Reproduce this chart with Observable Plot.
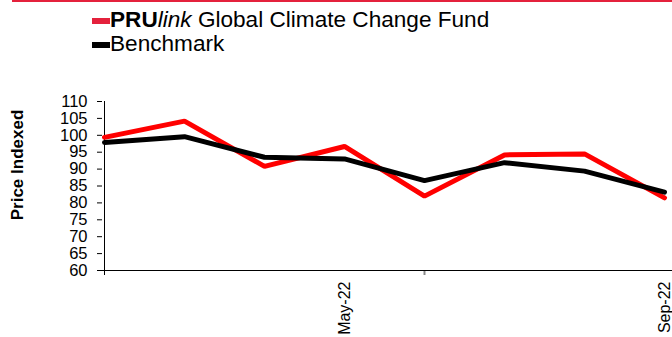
<!DOCTYPE html>
<html>
<head>
<meta charset="utf-8">
<script src="https://cdn.jsdelivr.net/npm/d3@7"></script>
<script src="https://cdn.jsdelivr.net/npm/@observablehq/plot@0.6"></script>
<style>
  html, body { margin: 0; padding: 0; background: #fff; }
  #wrap { position: relative; width: 672px; height: 337px; font-family: "Liberation Sans", Arial, sans-serif; }
  #topline { position: absolute; left: 12px; right: 0; top: 0; height: 2px; background: #e4213c; }
  .leg { position: absolute; left: 92px; font-size: 22.6px; line-height: 24px; color: #000; white-space: nowrap; }
  .sw { display: inline-block; width: 18px; height: 6px; vertical-align: 3px; }
  #chart { position: absolute; left: 0; top: 0; }
</style>
</head>
<body>
<div id="wrap">
  <div id="chart"></div>
  <div id="topline"></div>
  <div class="leg" style="top:8px"><span class="sw" style="background:#e4213c"></span><b>PRU</b><i>link</i> Global Climate Change Fund</div>
  <div class="leg" style="top:32px"><span class="sw" style="background:#000"></span>Benchmark</div>
</div>
<script>
const months = ["Feb-22","Mar-22","Apr-22","May-22","Jun-22","Jul-22","Aug-22","Sep-22"];
const fund = [99.4,104.2,90.8,96.7,82.0,94.2,94.5,81.5];
const bench = [97.9,99.6,93.5,93.0,86.6,91.9,89.4,83.2];
const yTicks = [60,65,70,75,80,85,90,95,100,105,110];
const xLabelTicks = ["May-22","Sep-22"];
const xMarkTicks = ["Feb-22","Jun-22"];

const fundData = months.map((m,i) => ({m, v: fund[i]}));
const benchData = months.map((m,i) => ({m, v: bench[i]}));

const chart = Plot.plot({
  width: 672,
  height: 337,
  marginLeft: 102,
  marginRight: 0,
  marginTop: 101,
  marginBottom: 67,
  style: {fontFamily: "'Liberation Sans', Arial, sans-serif", fontSize: "16px", background: "transparent", overflow: "visible"},
  x: {type: "point", domain: months, padding: 0, insetRight: 6.5},
  y: {domain: [60,110]},
  marks: [
    Plot.axisY({ticks: yTicks, tickSize: 5, tickPadding: 10, fontSize: 16.5, label: null, stroke: "#000"}),
    Plot.axisX({ticks: [xMarkTicks[0]], tickSize: 5, tickFormat: () => "", label: null, stroke: "#000"}),
    Plot.axisX({ticks: [xMarkTicks[1]], tickSize: 5, tickFormat: () => "", label: null, stroke: "#888", strokeWidth: 2}),
    Plot.axisX({ticks: xLabelTicks, tickSize: 0, tickPadding: 11, tickRotate: -90, fontSize: 16, label: null}),
    Plot.ruleY([60], {stroke: "#000"}),
    Plot.ruleX([months[0]], {stroke: "#000"}),
    Plot.line(fundData, {x: "m", y: "v", stroke: "#ff0000", strokeWidth: 5, strokeLinejoin: "miter"}),
    Plot.line(benchData, {x: "m", y: "v", stroke: "#000", strokeWidth: 5, strokeLinejoin: "miter"}),
    Plot.text(["Price Indexed"], {frameAnchor: "left", textAnchor: "middle", rotate: -90, dx: -85, dy: -21, fontWeight: "bold", fontSize: 17})
  ]
});
document.getElementById("chart").appendChild(chart);
</script>
</body>
</html>
